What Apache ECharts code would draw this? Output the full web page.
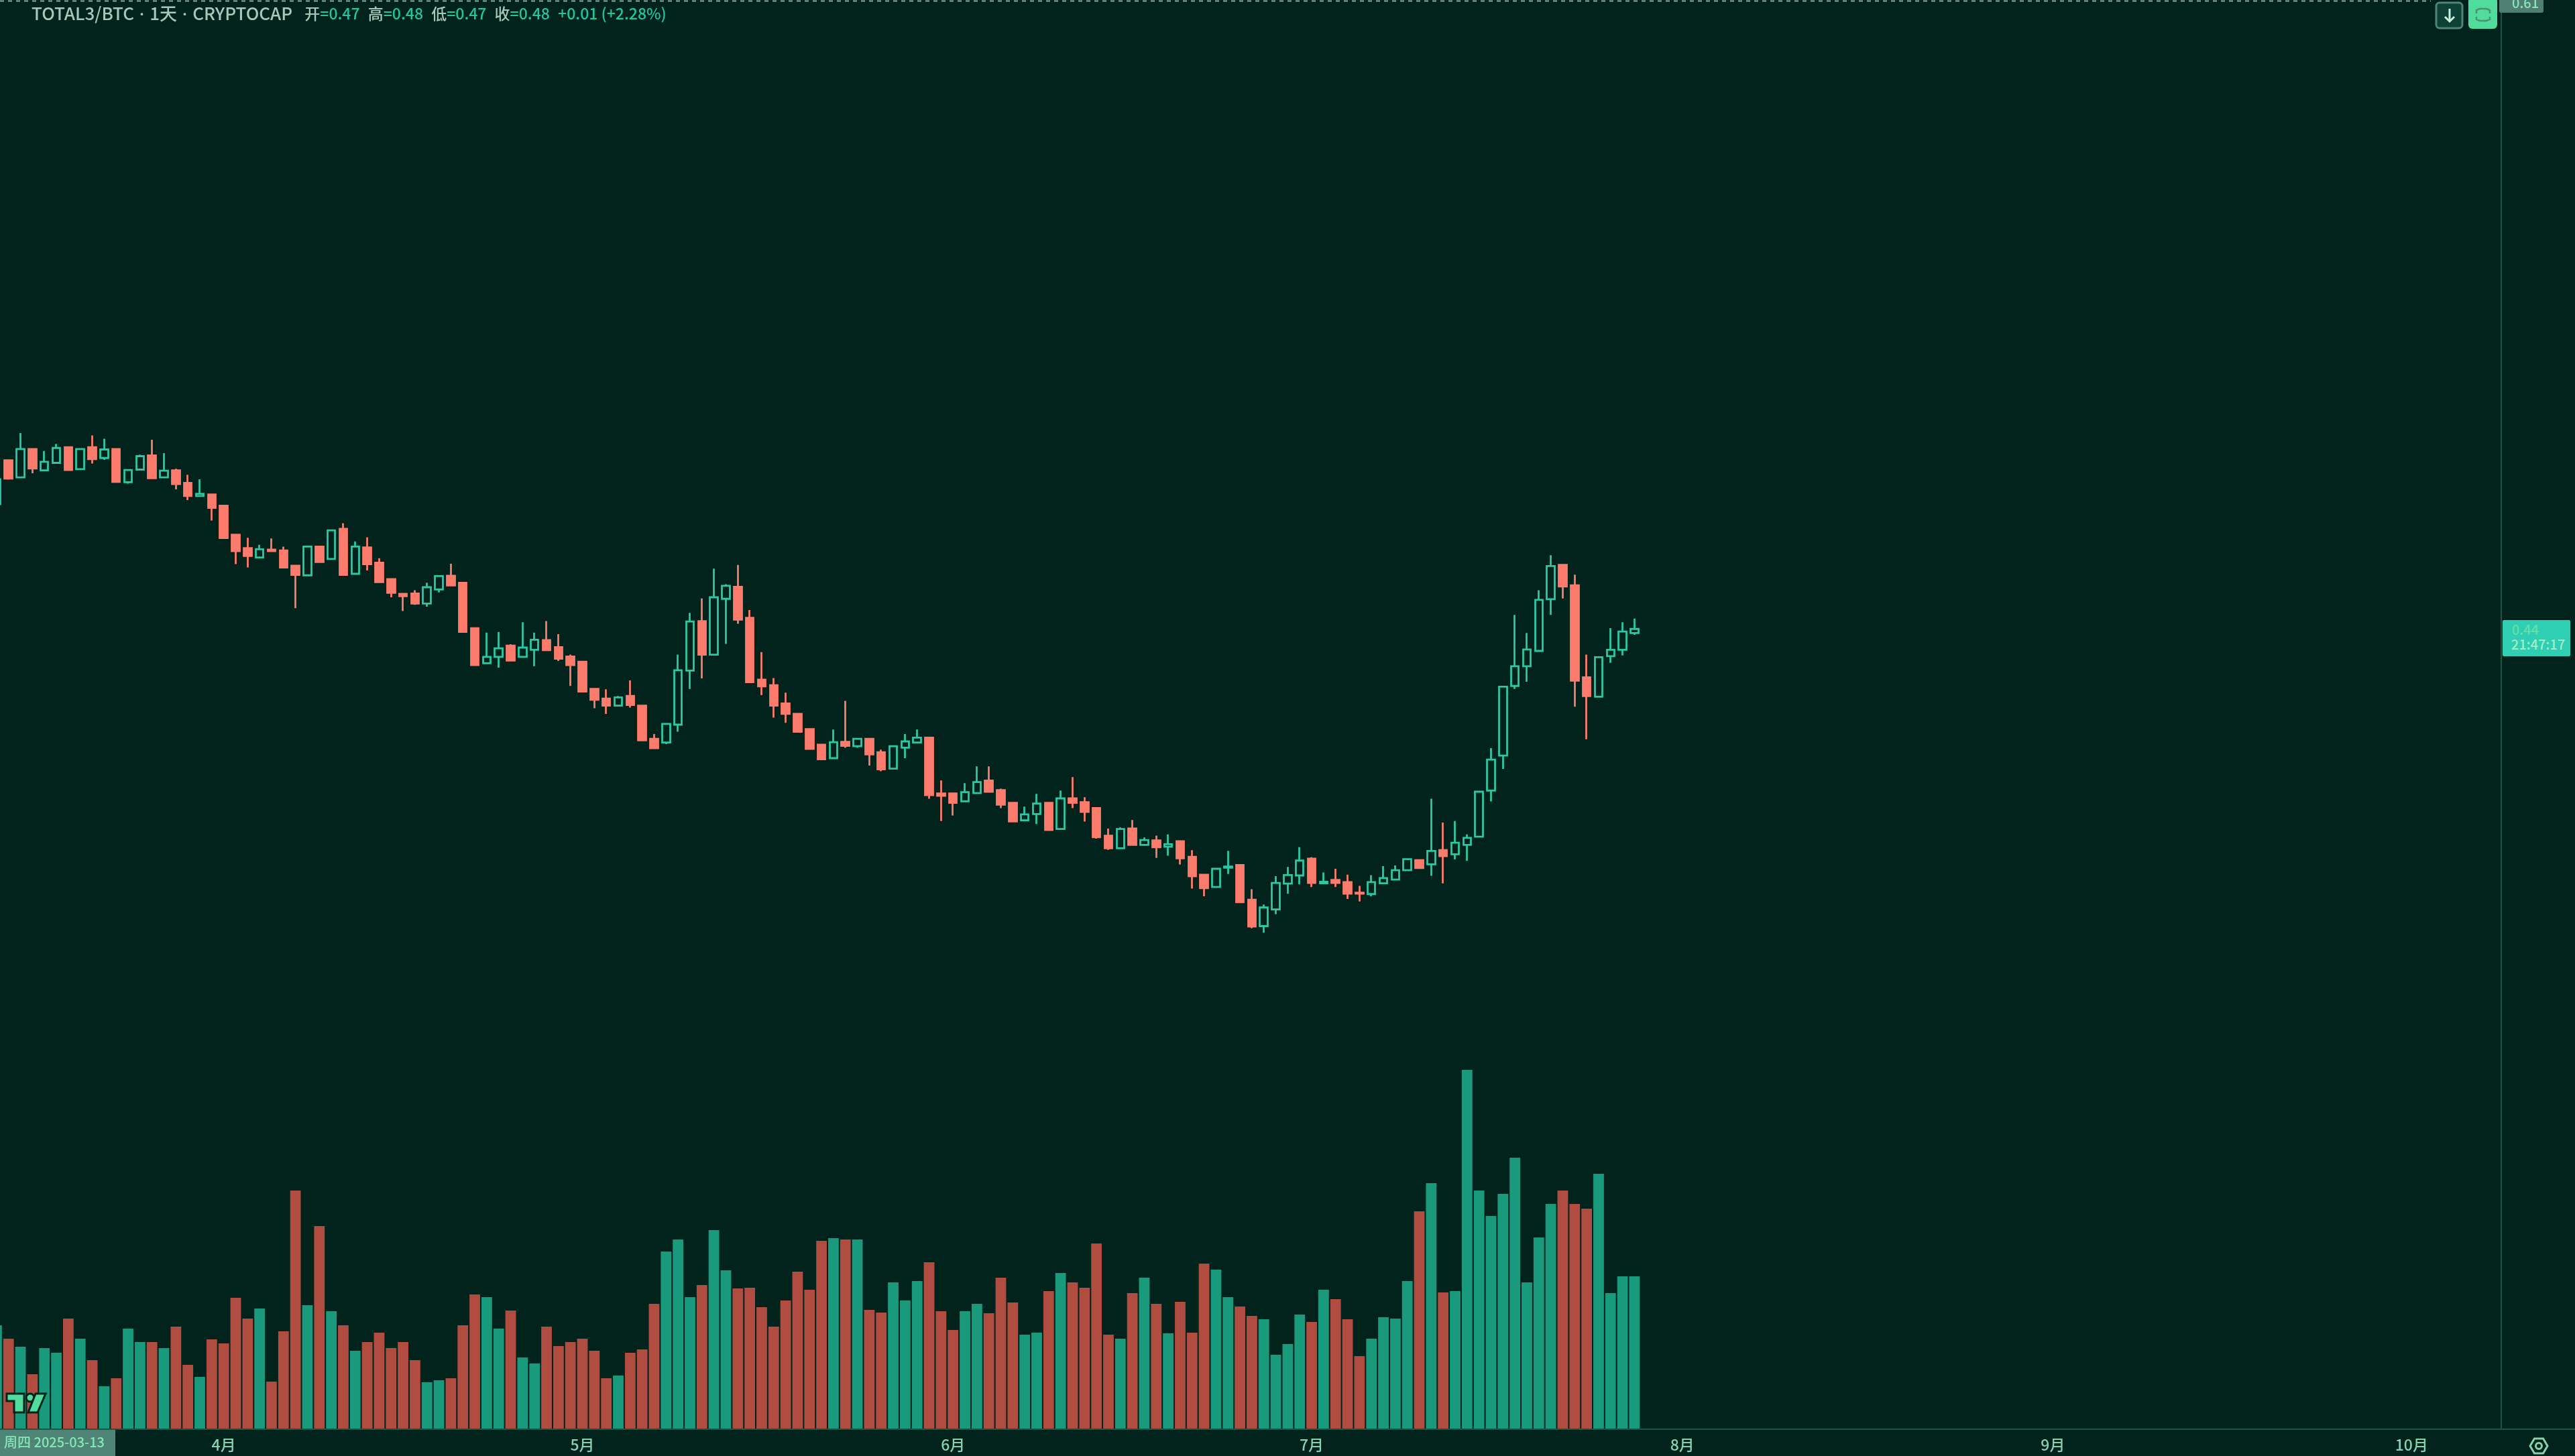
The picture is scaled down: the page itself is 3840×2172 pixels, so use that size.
<!DOCTYPE html>
<html><head><meta charset="utf-8">
<style>html,body{margin:0;padding:0;background:#02231c;overflow:hidden}#c{width:3840px;height:2172px}</style>
<script src="https://cdn.jsdelivr.net/npm/echarts@6/dist/echarts.min.js"></script>
</head><body><div id="c"></div>
<script>
// Values; index 0 is the clipped candle of 2025-03-13.
const startDate = '2025-03-13';
const slotCount = 210;
const opens = [0.4753,
0.4871,0.4825,0.4901,0.4844,0.4864,0.4906,0.4847,0.4906,0.4877,0.4901,
0.4812,0.4846,0.4884,0.4825,0.4844,0.4810,0.4775,0.4779,0.4749,0.4671,
0.4635,0.4610,0.4631,0.4629,0.4588,0.4562,0.4639,0.4606,0.4687,0.4566,
0.4637,0.4596,0.4552,0.4512,0.4513,0.4486,0.4524,0.4561,0.4542,0.4420,
0.4326,0.4343,0.4373,0.4343,0.4362,0.4388,0.4369,0.4344,0.4330,0.4257,
0.4231,0.4212,0.4238,0.4212,0.4123,0.4113,0.4161,0.4306,0.4439,0.4349,
0.4499,0.4531,0.4448,0.4282,0.4267,0.4218,0.4190,0.4149,0.4107,0.4071,
0.4115,0.4103,0.4123,0.4087,0.4043,0.4099,0.4113,0.4126,0.3976,0.3976,
0.3955,0.3977,0.4011,0.3985,0.3951,0.3904,0.3921,0.3951,0.3881,0.3963,
0.3953,0.3937,0.3863,0.3829,0.3882,0.3838,0.3850,0.3833,0.3848,0.3806,
0.3758,0.3725,0.3777,0.3784,0.3691,0.3620,0.3665,0.3734,0.3756,0.3801,
0.3735,0.3744,0.3738,0.3710,0.3706,0.3735,0.3745,0.3770,0.3797,0.3786,
0.3824,0.3813,0.3838,0.3860,0.3984,0.4078,0.4265,0.4318,0.4359,0.4498,
0.4590,0.4535,0.4288,0.4236,0.4345,0.4362,0.4407];
const closes = [0.4820,
0.4822,0.4901,0.4849,0.4867,0.4904,0.4845,0.4901,0.4874,0.4900,0.4813,
0.4845,0.4882,0.4823,0.4843,0.4807,0.4775,0.4781,0.4743,0.4662,0.4627,
0.4614,0.4632,0.4627,0.4583,0.4563,0.4639,0.4598,0.4683,0.4563,0.4639,
0.4592,0.4544,0.4515,0.4506,0.4486,0.4530,0.4560,0.4535,0.4410,0.4321,
0.4343,0.4366,0.4333,0.4368,0.4389,0.4361,0.4338,0.4321,0.4250,0.4228,
0.4212,0.4234,0.4214,0.4119,0.4098,0.4163,0.4307,0.4438,0.4349,0.4503,
0.4534,0.4443,0.4275,0.4264,0.4212,0.4190,0.4142,0.4096,0.4068,0.4114,
0.4104,0.4123,0.4081,0.4041,0.4103,0.4116,0.4126,0.3972,0.3970,0.3951,
0.3980,0.4007,0.3981,0.3946,0.3901,0.3920,0.3949,0.3878,0.3963,0.3951,
0.3927,0.3859,0.3829,0.3881,0.3838,0.3851,0.3832,0.3840,0.3802,0.3754,
0.3722,0.3774,0.3780,0.3684,0.3619,0.3670,0.3736,0.3757,0.3796,0.3736,
0.3739,0.3736,0.3707,0.3707,0.3738,0.3749,0.3770,0.3800,0.3776,0.3822,
0.3808,0.3844,0.3857,0.3981,0.4067,0.4263,0.4318,0.4363,0.4496,0.4587,
0.4532,0.4279,0.4238,0.4342,0.4362,0.4411,0.4418];
const lows = [0.4753,
0.4819,0.4824,0.4836,0.4842,0.4864,0.4845,0.4847,0.4862,0.4872,0.4813,
0.4808,0.4846,0.4823,0.4825,0.4793,0.4764,0.4775,0.4709,0.4662,0.4592,
0.4583,0.4610,0.4627,0.4583,0.4474,0.4562,0.4598,0.4606,0.4563,0.4566,
0.4575,0.4544,0.4503,0.4466,0.4483,0.4478,0.4516,0.4535,0.4410,0.4321,
0.4326,0.4314,0.4333,0.4343,0.4318,0.4361,0.4332,0.4265,0.4250,0.4205,
0.4190,0.4212,0.4207,0.4119,0.4098,0.4109,0.4142,0.4257,0.4285,0.4349,
0.4378,0.4432,0.4275,0.4240,0.4180,0.4166,0.4142,0.4096,0.4068,0.4071,
0.4099,0.4099,0.4051,0.4036,0.4043,0.4071,0.4113,0.3962,0.3902,0.3917,
0.3955,0.3977,0.3981,0.3937,0.3901,0.3904,0.3894,0.3878,0.3881,0.3937,
0.3901,0.3855,0.3825,0.3829,0.3838,0.3838,0.3803,0.3809,0.3785,0.3721,
0.3700,0.3725,0.3760,0.3684,0.3614,0.3602,0.3652,0.3707,0.3732,0.3725,
0.3735,0.3725,0.3693,0.3686,0.3700,0.3735,0.3745,0.3770,0.3776,0.3755,
0.3735,0.3799,0.3795,0.3860,0.3955,0.4042,0.4257,0.4276,0.4359,0.4456,
0.4500,0.4209,0.4122,0.4236,0.4327,0.4347,0.4402];
const highs = [0.4820,
0.4871,0.4944,0.4901,0.4896,0.4915,0.4906,0.4901,0.4938,0.4929,0.4901,
0.4845,0.4886,0.4926,0.4890,0.4848,0.4832,0.4820,0.4779,0.4749,0.4671,
0.4663,0.4644,0.4661,0.4639,0.4588,0.4639,0.4639,0.4683,0.4702,0.4653,
0.4664,0.4608,0.4552,0.4512,0.4522,0.4542,0.4560,0.4593,0.4542,0.4420,
0.4408,0.4410,0.4377,0.4436,0.4408,0.4439,0.4404,0.4349,0.4330,0.4257,
0.4256,0.4238,0.4280,0.4212,0.4136,0.4163,0.4349,0.4461,0.4500,0.4580,
0.4538,0.4590,0.4469,0.4356,0.4286,0.4247,0.4190,0.4149,0.4107,0.4148,
0.4225,0.4123,0.4123,0.4094,0.4103,0.4136,0.4148,0.4126,0.4011,0.3976,
0.4004,0.4049,0.4049,0.3989,0.3951,0.3941,0.3975,0.3951,0.3984,0.4020,
0.3966,0.3937,0.3882,0.3885,0.3905,0.3858,0.3863,0.3866,0.3848,0.3824,
0.3758,0.3774,0.3822,0.3784,0.3719,0.3678,0.3754,0.3779,0.3832,0.3805,
0.3764,0.3774,0.3758,0.3728,0.3757,0.3781,0.3783,0.3800,0.3797,0.3962,
0.3898,0.3902,0.3866,0.3981,0.4098,0.4263,0.4456,0.4407,0.4522,0.4616,
0.4590,0.4564,0.4349,0.4342,0.4420,0.4436,0.4446];
const volumes = [155,
135,123,82,121,114,165,135,103,64,76,
150,130,130,121,153,96,78,134,128,196,
165,180,71,146,356,185,303,176,155,117,
130,144,121,130,103,70,73,76,155,201,
197,150,177,107,98,153,124,130,135,117,
76,80,114,119,187,265,283,197,215,297,
237,210,211,182,153,192,235,208,281,285,
283,283,178,174,219,192,221,249,176,148,
176,187,173,226,189,141,144,206,233,219,
211,277,141,135,203,226,187,143,190,144,
247,238,197,183,169,164,111,127,171,160,
208,194,164,109,135,167,165,221,325,367,
204,206,536,356,318,351,405,219,286,336,
356,336,329,381,203,228,228];
const priceMin = 0.2269, priceMax = 0.6107, volumeMax = 600;
const monthNames = ['1月','2月','3月','4月','5月','6月','7月','8月','9月','10月','11月','12月'];
const headerParts = ['TOTAL3/BTC','1天','CRYPTOCAP'];
const headerOHLC = [['开','0.47'],['高','0.48'],['低','0.47'],['收','0.48']];
const headerChange = '+0.01 (+2.28%)';
const crosshairDate = '周四 2025-03-13';
const topPriceTag = '0.61', lastPriceTag = '0.44', countdownTag = '21:47:17';

const BG='#02231c', TEAL='#2cc7a3', RED='#fb7c6c', VOLG='#1a9a7c', VOLR='#b04c40', LINE='#1f5344', TXT='#86d2ae', MINT='#4fdc9c';
const FONT='"Noto Sans CJK SC","Noto Sans",sans-serif';

const categories=[];
{const t0=Date.parse(startDate+'T00:00:00Z');
 for(let i=0;i<slotCount;i++)categories.push(new Date(t0+i*864e5).toISOString().slice(0,10));}
const candle=opens.map((o,i)=>[o,closes[i],lows[i],highs[i]]);
const volData=volumes.map((v,i)=>({value:v,itemStyle:{color:closes[i]>=opens[i]?VOLG:VOLR}}));

const headerRich={
 n:{fill:'#a3c9b8',font:'500 26px '+FONT},
 s:{fill:'#a3c9b8',font:'500 16px '+FONT},
 g:{fill:'#a3c9b8',font:'500 27px '+FONT},
 l:{fill:'#a3c9b8',font:'500 23px '+FONT},
 v:{fill:'#1fc6a0',font:'500 23px '+FONT}};
let headerText=headerParts.map(p=>'{n|'+p+'}').join('{s| · }')+'{g|   }';
headerText+=headerOHLC.map(p=>'{l|'+p[0]+'}{v|='+p[1]+'}').join('{g|  }');
headerText+='{g|  }{v|'+headerChange+'}';

const chart=echarts.init(document.getElementById('c'),null,{renderer:'canvas',width:3840,height:2172});
chart.setOption({
 animation:false,backgroundColor:BG,tooltip:{show:false},
 grid:[{left:-14,width:3744,top:0,height:2132,outerBoundsMode:'none'},{left:-14,width:3744,top:1532,height:600,outerBoundsMode:'none'}],
 xAxis:[
  {type:'category',gridIndex:0,data:categories,axisLabel:{show:false},axisTick:{show:false},axisLine:{show:false},splitLine:{show:false}},
  {type:'category',gridIndex:1,data:categories,axisTick:{show:false},splitLine:{show:false},
   axisLine:{show:true,lineStyle:{color:LINE,width:2}},
   axisLabel:{show:true,color:TXT,fontSize:23,fontWeight:500,fontFamily:FONT,margin:12,hideOverlap:false,
    interval:(i,v)=>v.slice(8)==='01',formatter:v=>monthNames[+v.slice(5,7)-1]}}
 ],
 yAxis:[
  {type:'value',gridIndex:0,position:'right',min:priceMin,max:priceMax,axisLabel:{show:false},axisTick:{show:false},splitLine:{show:false},
   axisLine:{show:true,lineStyle:{color:LINE,width:2}}},
  {type:'value',gridIndex:1,min:0,max:volumeMax,show:false,splitLine:{show:false}}
 ],
 series:[
  {type:'bar',xAxisIndex:1,yAxisIndex:1,data:volData,barWidth:15.8,z:1},
  {type:'candlestick',xAxisIndex:0,yAxisIndex:0,data:candle,barWidth:12,z:2,clip:true,
   itemStyle:{color:'rgba(0,0,0,0)',color0:RED,borderColor:TEAL,borderColor0:RED,borderColorDoji:TEAL,borderWidth:2.8}}
 ],
 graphic:{elements:[
  {type:'line',silent:true,z:5,shape:{x1:0,y1:1.5,x2:3625,y2:1.5},style:{stroke:'#7fae9f',lineWidth:2,lineDash:[6,6]}},
  {type:'line',silent:true,z:5,shape:{x1:0,y1:2132,x2:3840,y2:2132},style:{stroke:LINE,lineWidth:2}},
  {type:'text',silent:true,z:6,x:47,y:7,style:{text:headerText,rich:headerRich,font:'500 23px '+FONT,fill:'#a3c9b8'}},
  // crosshair date tag
  {type:'rect',silent:true,z:6,shape:{x:0,y:2133,width:172,height:39},style:{fill:'#4f8576'}},
  {type:'text',silent:true,z:7,x:6,y:2141,style:{text:crosshairDate,fill:'#86e6b8',font:'500 20px '+FONT}},
  // top right buttons and price tag
  {type:'rect',silent:true,z:6,shape:{x:3727,y:-4,width:66,height:23,r:3},style:{fill:'#4f7f72'}},
  {type:'text',silent:true,z:7,x:3746,y:-6,style:{text:topPriceTag,fill:'#86e6b8',font:'500 20px '+FONT}},
  {type:'rect',silent:true,z:6,shape:{x:3633,y:4,width:39,height:38,r:5},style:{fill:'#0d4135',stroke:'#4f8576',lineWidth:3}},
  {type:'polyline',silent:true,z:7,shape:{points:[[3653,13],[3653,32]]},style:{stroke:'#c8f0dc',lineWidth:3,fill:null}},
  {type:'polyline',silent:true,z:7,shape:{points:[[3646,25],[3653,32],[3660,25]]},style:{stroke:'#c8f0dc',lineWidth:3,fill:null}},
  {type:'rect',silent:true,z:6,shape:{x:3681,y:-4,width:43,height:47,r:6},style:{fill:MINT}},
  {type:'polyline',silent:true,z:7,shape:{points:[[3693,20],[3693,15],[3698,13],[3708,13],[3713,15],[3713,20]]},style:{stroke:'#4f8f6f',lineWidth:2.5,fill:null}},
  {type:'polyline',silent:true,z:7,shape:{points:[[3693,25],[3693,29],[3698,31],[3708,31],[3713,29],[3713,25]]},style:{stroke:'#4f8f6f',lineWidth:2.5,fill:null}},
  // last price tag
  {type:'rect',silent:true,z:6,shape:{x:3732,y:925,width:101,height:54,r:2},style:{fill:'#2fcfb4'}},
  {type:'text',silent:true,z:7,x:3746,y:929,style:{text:lastPriceTag,fill:'#69dfa6',font:'500 20px '+FONT}},
  {type:'text',silent:true,z:7,x:3745,y:951,style:{text:countdownTag,fill:'#a6ecca',font:'500 20px '+FONT}},
  // settings icon
  {type:'polygon',silent:true,z:7,shape:{points:[[3773,2157],[3779.5,2146],[3792.5,2146],[3799,2157],[3792.5,2168],[3779.5,2168]]},style:{stroke:TXT,lineWidth:3,fill:null}},
  {type:'circle',silent:true,z:7,shape:{cx:3786,cy:2157,r:4.5},style:{stroke:TXT,lineWidth:3,fill:null}},
  // logo
  {type:'polygon',silent:true,z:8,shape:{points:[[10,2079],[36,2079],[36,2107],[21,2107],[21,2090],[10,2090]]},style:{fill:MINT,stroke:BG,lineWidth:3}},
  {type:'circle',silent:true,z:8,shape:{cx:45,cy:2085,r:6},style:{fill:MINT,stroke:BG,lineWidth:3}},
  {type:'polygon',silent:true,z:8,shape:{points:[[53,2079],[68,2079],[56,2107],[42,2107]]},style:{fill:MINT,stroke:BG,lineWidth:3}}
 ]}
});
</script></body></html>
